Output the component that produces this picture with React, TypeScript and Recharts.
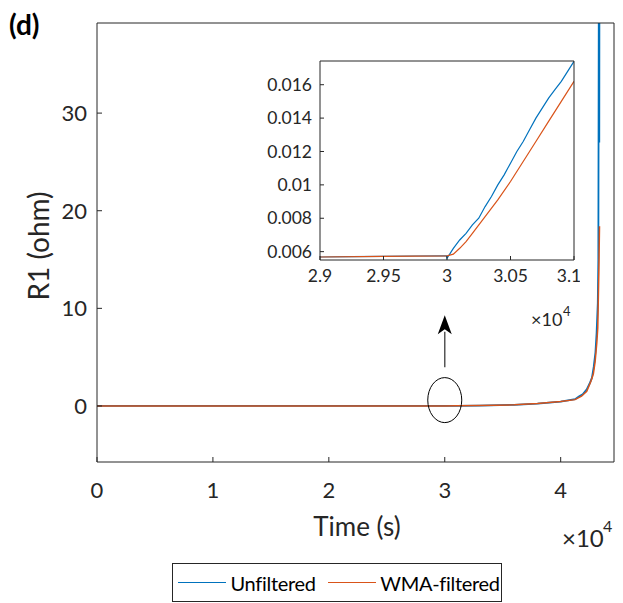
import React from 'react';
import { LineChart, Line, XAxis, YAxis, ReferenceDot, ReferenceLine } from 'recharts';

// full run: time (s) and R1 (ohm)
const unfilteredTime = [0, 10000, 20000, 29000, 30000, 31000, 33000, 36000, 38000, 40000, 41240, 41600, 41900, 42250, 42500, 42700, 42850, 43000, 43100, 43200, 43250, 43300, 43330, 43360];
const unfilteredR1 = [0.0057, 0.0057, 0.0057, 0.0057, 0.0056, 0.0174, 0.04, 0.12, 0.25, 0.45, 0.7, 1.0, 1.2, 1.7, 2.3, 2.9, 4.0, 5.5, 7.5, 10.5, 15, 50, 27, 70];

const filteredTime = [0, 10000, 20000, 29000, 30000, 31000, 33000, 36000, 38000, 40000, 41240, 41800, 42250, 42600, 42820, 42970, 43120, 43200, 43290, 43350];
const filteredR1 = [0.0057, 0.0057, 0.0057, 0.0057, 0.0058, 0.0162, 0.04, 0.12, 0.25, 0.45, 0.65, 1.0, 1.5, 2.5, 3.3, 4.5, 6.5, 8.0, 13.6, 18.4];

// zoom window around t = 3e4
const insetUnfilteredTime = [29000, 29250, 29500, 29750, 29995, 30000, 30050, 30100, 30150, 30200, 30250, 30300, 30350, 30400, 30450, 30500, 30550, 30600, 30650, 30700, 30750, 30800, 30850, 30900, 30950, 31000];
const insetUnfilteredR1 = [0.00568, 0.0057, 0.00572, 0.00574, 0.00575, 0.0056, 0.0062, 0.0067, 0.0071, 0.0076, 0.008, 0.0087, 0.0093, 0.01, 0.0106, 0.0113, 0.012, 0.0126, 0.0133, 0.014, 0.0146, 0.0152, 0.0157, 0.0162, 0.0168, 0.0174];

const insetFilteredTime = [29000, 29500, 30000, 30050, 30100, 30150, 30200, 30300, 30400, 30500, 30600, 30700, 30800, 30900, 31000];
const insetFilteredR1 = [0.00568, 0.00572, 0.00575, 0.00585, 0.0062, 0.0066, 0.0071, 0.0081, 0.0091, 0.0102, 0.0114, 0.0126, 0.0138, 0.015, 0.0162];

const seriesNames = ['Unfiltered', 'WMA-filtered'];
const seriesColors = ['#0072BD', '#D95319'];

const mainXTicks = [0, 10000, 20000, 30000, 40000];
const mainYTicks = [0, 10, 20, 30];
const insetXTicks = [29000, 29500, 30000, 30500, 31000];
const insetYTicks = [0.006, 0.008, 0.01, 0.012, 0.014, 0.016];

const zip = (t: number[], v: number[]) => t.map((x, i) => ({ t: x, r: v[i] }));

const axisColor = '#262626';
const font = 'Lato, "Open Sans", sans-serif';
const blank = () => '';

const Arrowhead = (p: any) => (
  <path
    d={`M${p.cx},${p.cy} L${p.cx + 7},${p.cy + 19} L${p.cx},${p.cy + 14} L${p.cx - 7},${p.cy + 19} Z`}
    fill="#000"
  />
);

const Ellipse = (p: any) => (
  <ellipse cx={p.cx} cy={p.cy} rx={17} ry={22.5} fill="none" stroke="#000" strokeWidth={1} />
);

export default function App() {
  const tickStyle = { fill: axisColor, fontSize: 22, fontFamily: font };
  const insetTick = { fill: axisColor, fontSize: 17.5, fontFamily: font };

  return (
    <div style={{ position: 'absolute', left: 0, top: 0, width: 623, height: 603, background: '#fff', fontFamily: font }}>
      <LineChart width={623} height={603} margin={{ top: 22, right: 8, left: 47, bottom: 101 }}>
        <XAxis
          dataKey="t"
          type="number"
          domain={[0, 44600]}
          ticks={mainXTicks}
          tickFormatter={(v) => String(v / 10000)}
          allowDataOverflow
          height={40}
          stroke={axisColor}
          tick={tickStyle}
          tickSize={-5}
          tickMargin={25}
        />
        <XAxis xAxisId="top" orientation="top" type="number" domain={[0, 44600]} ticks={mainXTicks} tickFormatter={blank} height={1} stroke={axisColor} tickSize={-5} />
        <YAxis
          type="number"
          domain={[-5.74, 39.23]}
          ticks={mainYTicks}
          allowDataOverflow
          width={50}
          stroke={axisColor}
          tick={tickStyle}
          tickSize={-5}
          tickMargin={15}
        />
        <YAxis yAxisId="right" orientation="right" type="number" domain={[-5.74, 39.23]} ticks={mainYTicks} tickFormatter={blank} width={1} stroke={axisColor} tickSize={-5} />
        <Line data={zip(unfilteredTime, unfilteredR1)} dataKey="r" name={seriesNames[0]} stroke={seriesColors[0]} strokeWidth={1.8} dot={false} isAnimationActive={false} />
        <Line data={zip(filteredTime, filteredR1)} dataKey="r" name={seriesNames[1]} stroke={seriesColors[1]} strokeWidth={1.5} dot={false} isAnimationActive={false} />
        <ReferenceDot x={30000} y={0.6} shape={Ellipse} />
        <ReferenceLine segment={[{ x: 30000, y: 3.97 }, { x: 30000, y: 7.6 }]} stroke="#555" strokeWidth={1.5} />
        <ReferenceDot x={30000} y={9.3} shape={Arrowhead} />
      </LineChart>

      <div style={{ position: 'absolute', left: 240, top: 50 }}>
        <LineChart width={340} height={240} margin={{ top: 10, right: 5, left: 0, bottom: 0 }}>
          <XAxis
            dataKey="t"
            type="number"
            domain={[29000, 31000]}
            ticks={insetXTicks}
            tickFormatter={(v) => String(v / 10000)}
            allowDataOverflow
            height={30}
            stroke={axisColor}
            tick={insetTick}
            tickSize={-4}
            tickMargin={14}
          />
          <XAxis xAxisId="top" orientation="top" type="number" domain={[29000, 31000]} ticks={insetXTicks} tickFormatter={blank} height={1} stroke={axisColor} tickSize={-4} />
          <YAxis
            type="number"
            domain={[0.0055, 0.01742]}
            ticks={insetYTicks}
            tickFormatter={(v) => String(Math.round(v * 1000) / 1000)}
            allowDataOverflow
            width={80}
            stroke={axisColor}
            tick={insetTick}
            tickSize={-4}
            tickMargin={12}
          />
          <YAxis yAxisId="right" orientation="right" type="number" domain={[0.0055, 0.01742]} ticks={insetYTicks} tickFormatter={blank} width={1} stroke={axisColor} tickSize={-4} />
          <Line data={zip(insetUnfilteredTime, insetUnfilteredR1)} dataKey="r" stroke={seriesColors[0]} strokeWidth={1.2} dot={false} isAnimationActive={false} />
          <Line data={zip(insetFilteredTime, insetFilteredR1)} dataKey="r" stroke={seriesColors[1]} strokeWidth={1.2} dot={false} isAnimationActive={false} />
        </LineChart>
      </div>

      <svg width={623} height={603} style={{ position: 'absolute', left: 0, top: 0, pointerEvents: 'none' }} fontFamily={font}>
        <text x={9} y={35} fontSize={28} fontWeight="bold" fill="#000">(d)</text>
        <text x={357} y={536} fontSize={26} fill={axisColor} textAnchor="middle">Time (s)</text>
        <text transform="translate(49,246) rotate(-90)" fontSize={28} fill={axisColor} textAnchor="middle">R1 (ohm)</text>
        <text x={562} y={547} fontSize={24} fill={axisColor}>×10</text>
        <text x={603} y={532} fontSize={16} fill={axisColor}>4</text>
        <text x={531} y={326} fontSize={18} fill={axisColor}>×10</text>
        <text x={563} y={316} fontSize={13} fill={axisColor}>4</text>
      </svg>

      <div
        style={{
          position: 'absolute', left: 172, top: 563, width: 330, height: 39, boxSizing: 'border-box',
          border: '1px solid #262626', display: 'flex', alignItems: 'center', paddingLeft: 5,
          fontSize: 20, letterSpacing: -0.3, color: '#000',
        }}
      >
        {seriesNames.map((name, i) => (
          <div key={name} style={{ display: 'flex', alignItems: 'center', marginRight: 12, whiteSpace: 'nowrap' }}>
            <div style={{ width: 48, height: 0, borderTop: `1.5px solid ${seriesColors[i]}`, marginRight: 4.5 }} />
            <span>{name}</span>
          </div>
        ))}
      </div>
    </div>
  );
}
